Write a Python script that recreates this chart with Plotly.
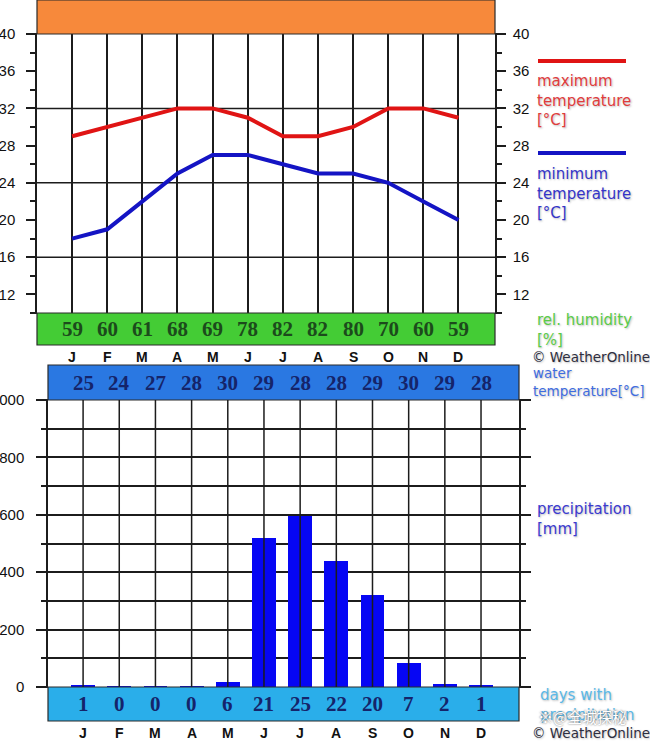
import plotly.graph_objects as go

MONTHS = ["J", "F", "M", "A", "M", "J", "J", "A", "S", "O", "N", "D"]
TMAX = [29, 30, 31, 32, 32, 31, 29, 29, 30, 32, 32, 31]
TMIN = [18, 19, 22, 25, 27, 27, 26, 25, 25, 24, 22, 20]
HUMIDITY = [59, 60, 61, 68, 69, 78, 82, 82, 80, 70, 60, 59]
WATER_T = [25, 24, 27, 28, 30, 29, 28, 28, 29, 30, 29, 28]
PRECIP = [5, 3, 3, 3, 16, 519, 597, 439, 320, 82, 10, 5]
RAIN_DAYS = [1, 0, 0, 0, 6, 21, 25, 22, 20, 7, 2, 1]
TOP_GRID = [16, 24, 32]

W, H = 650, 741
def py(p):
    return 1 - p / H
def px(p):
    return p / W

idx = list(range(len(MONTHS)))
GRID = "#1c1c1c"
AX_FONT = dict(family="Liberation Sans, Arial, sans-serif", size=15, color="#111")

fig = go.Figure()
fig.add_trace(go.Scatter(x=idx, y=TMAX, mode="lines", line=dict(color="#e01414", width=4),
                         xaxis="x", yaxis="y", hoverinfo="skip", showlegend=False))
fig.add_trace(go.Scatter(x=idx, y=TMIN, mode="lines", line=dict(color="#1414c4", width=4),
                         xaxis="x", yaxis="y3", hoverinfo="skip", showlegend=False))
fig.add_trace(go.Bar(x=idx, y=PRECIP, width=0.66, marker=dict(color="#0606f4", line=dict(width=0)),
                     xaxis="x2", yaxis="y2", hoverinfo="skip", showlegend=False))

shapes = []
def band(y0, y1, xd, color):
    shapes.append(dict(type="rect", xref=xd, yref="paper", x0=0, x1=1, y0=py(y1), y1=py(y0),
                       fillcolor=color, line=dict(color="#2a2a2a", width=1.2), layer="above"))
band(0, 34, "x domain", "#f7893b")
band(313, 345, "x domain", "#44cc35")
band(365, 400, "x2 domain", "#2a78e2")
band(687, 721, "x2 domain", "#2aaeea")
for g in TOP_GRID:
    shapes.append(dict(type="line", xref="x domain", yref="y", x0=0, x1=1, y0=g, y1=g,
                       line=dict(color=GRID, width=1.5), layer="below"))
for i in idx:
    shapes.append(dict(type="line", xref="x2", yref="y2 domain", x0=i, x1=i, y0=0, y1=1,
                       line=dict(color=GRID, width=1.5), layer="above"))
shapes.append(dict(type="line", xref="paper", yref="paper", x0=px(538), x1=px(626), y0=py(61), y1=py(61),
                   line=dict(color="#e01414", width=4)))
shapes.append(dict(type="line", xref="paper", yref="paper", x0=px(538), x1=px(626), y0=py(153), y1=py(153),
                   line=dict(color="#1414c4", width=4)))

ann = []
SERIF = "Liberation Serif, Times New Roman, serif"
def cell(i, xref, ypix, text, font):
    ann.append(dict(x=i, xref=xref, y=py(ypix), yref="paper", xanchor="center", yanchor="middle",
                    text=text, showarrow=False, font=font))

NUM_G = dict(family=SERIF, size=21, color="#1c4a1c")
NUM_B = dict(family=SERIF, size=21, color="#15246a")
MON_F = dict(family="Liberation Sans, Arial", size=14, color="#111")
for i in idx:
    cell(i, "x", 329, f"<b>{HUMIDITY[i]}</b>", NUM_G)
    cell(i, "x", 357, f"<b>{MONTHS[i]}</b>", MON_F)
    cell(i, "x2", 383, f"<b>{WATER_T[i]}</b>", NUM_B)
    cell(i, "x2", 704, f"<b>{RAIN_DAYS[i]}</b>", NUM_B)
    cell(i, "x2", 733, f"<b>{MONTHS[i]}</b>", MON_F)

LEG = "DejaVu Sans, Verdana, sans-serif"
SH = "1px 1px 2px rgba(0,0,0,0.25)"
def label(x, ytop, text, color, size=15, yanchor="top"):
    ann.append(dict(x=px(x), y=py(ytop), xref="paper", yref="paper", xanchor="left", yanchor=yanchor,
                    align="left", text=text, showarrow=False,
                    font=dict(family=LEG, size=size, color=color, shadow=SH)))

label(535, 70, "maximum<br>temperature<br>[°C]", "#e03c3c")
label(535, 163, "minimum<br>temperature<br>[°C]", "#3434c8")
label(535, 309, "rel. humidity<br>[%]", "#5acb48")
label(530, 357, "© WeatherOnline", "#2e2e3e", size=13.5, yanchor="middle")
label(531, 363, "water<br>temperature[°C]", "#3f6ce0", size=13.5)
label(535, 498, "precipitation<br>[mm]", "#3a3ad0")
label(538, 684, "days with<br>precipitation", "#5ab8e8")
label(530, 733, "© WeatherOnline", "#2e2e3e", size=13.5, yanchor="middle")
ann.append(dict(x=px(536), y=py(716), xref="paper", yref="paper", xanchor="left", yanchor="middle",
                text="※@全城探秘", showarrow=False,
                font=dict(family="Noto Sans CJK SC", size=15, color="#ffffff",
                          shadow="0px 0px 2px #555")))

common_y = dict(tickwidth=1.5, tickcolor=GRID, tickfont=AX_FONT, zeroline=False,
                showline=True, linecolor=GRID, linewidth=1.5, automargin=False)

fig.update_layout(
    template="none",
    width=W, height=H, margin=dict(l=0, r=0, t=0, b=0, pad=0, autoexpand=False),
    paper_bgcolor="white", plot_bgcolor="white", showlegend=False,
    shapes=shapes, annotations=ann,
    xaxis=dict(domain=[px(37), px(495)], range=[-1.0, 12.04], anchor="y", automargin=False,
               tickvals=idx, showticklabels=False, ticks="", showgrid=True,
               gridcolor=GRID, gridwidth=1.5, zeroline=False,
               showline=True, mirror=True, linecolor=GRID, linewidth=1.2),
    yaxis=dict(domain=[py(313), py(34)], range=[10, 40], anchor="x",
               tick0=0, dtick=4, ticks="outside", ticklen=9, ticklabelstandoff=8, showgrid=False,
               minor=dict(dtick=2, tick0=0, ticks="outside", ticklen=5, tickwidth=1.5, tickcolor=GRID,
                          showgrid=False),
               **common_y),
    yaxis3=dict(overlaying="y", side="right", anchor="x", range=[10, 40],
                tick0=0, dtick=4, ticks="outside", ticklen=9, ticklabelstandoff=4, showgrid=False,
                minor=dict(dtick=2, tick0=0, ticks="outside", ticklen=5, tickwidth=1.5, tickcolor=GRID,
                           showgrid=False),
                **common_y),
    xaxis2=dict(domain=[px(48), px(519)], range=[-0.97, 12.05], anchor="y2", automargin=False,
                showticklabels=False, ticks="", showgrid=False, zeroline=False,
                showline=True, mirror=True, linecolor=GRID, linewidth=1.2),
    yaxis2=dict(domain=[py(687), py(400)], range=[0, 1000], anchor="x2",
                tick0=0, dtick=200, ticks="outside", ticklen=10, ticklabelstandoff=9,
                showgrid=True, gridcolor=GRID, gridwidth=1.5, mirror="ticks",
                minor=dict(dtick=100, tick0=0, ticks="outside", ticklen=5, tickwidth=1.5,
                           tickcolor=GRID, showgrid=True, gridcolor=GRID, gridwidth=1.5),
                **common_y),
    bargap=0,
)

fig.write_html("out.html")
